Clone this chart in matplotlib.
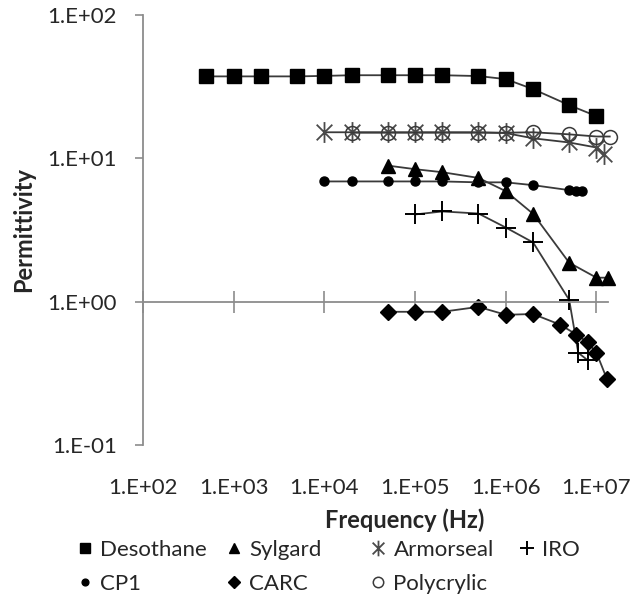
import numpy as np
import matplotlib
matplotlib.use("Agg")
import matplotlib.pyplot as plt
from matplotlib.path import Path
from matplotlib.lines import Line2D
from matplotlib.ticker import NullLocator

plt.rcParams['font.family'] = ['Lato', 'DejaVu Sans']

# ---------------- data ----------------
desothane_f = [5e2, 1e3, 2e3, 5e3, 1e4, 2e4, 5e4, 1e5, 2e5, 5e5, 1e6, 2e6, 5e6, 1e7]
desothane_v = [37.3, 37.3, 37.3, 37.3, 37.6, 38, 38, 38, 38, 37.5, 35.7, 30.4, 23.5, 19.7]

sylgard_f = [5e4, 1e5, 2e5, 5e5, 1e6, 2e6, 5e6, 1e7, 1.35e7]
sylgard_v = [8.9, 8.4, 8.0, 7.3, 5.9, 4.1, 1.87, 1.47, 1.47]

armorseal_f = [1e4, 2e4, 5e4, 1e5, 2e5, 5e5, 1e6, 2e6, 5e6, 1e7, 1.2e7]
armorseal_v = [15.2, 15.2, 15.2, 15.2, 15.2, 15.2, 15.0, 13.8, 12.9, 11.9, 10.8]

iro_f = [1e5, 2e5, 5e5, 1e6, 2e6, 5e6, 6.3e6, 8e6]
iro_v = [4.06, 4.26, 4.12, 3.29, 2.59, 1.03, 0.44, 0.39]

cp1_f = [1e4, 2e4, 5e4, 1e5, 2e5, 5e5, 1e6, 2e6, 5e6, 6e6, 7e6]
cp1_v = [6.9, 6.9, 6.9, 6.9, 6.9, 6.8, 6.8, 6.5, 6.0, 5.9, 5.9]

carc_f = [5e4, 1e5, 2e5, 5e5, 1e6, 2e6, 4e6, 6e6, 8e6, 1e7, 1.3e7]
carc_v = [0.85, 0.85, 0.85, 0.92, 0.81, 0.82, 0.69, 0.59, 0.52, 0.44, 0.29]

polycrylic_f = [2e4, 5e4, 1e5, 2e5, 5e5, 1e6, 2e6, 5e6, 1e7, 1.4e7]
polycrylic_v = [15.1, 15.1, 15.1, 15.1, 15.1, 15.1, 15.2, 14.7, 14.2, 14.2]

x_ticks = [1e2, 1e3, 1e4, 1e5, 1e6, 1e7]
x_tick_labels = ["1.E+02", "1.E+03", "1.E+04", "1.E+05", "1.E+06", "1.E+07"]
y_ticks = [1e-1, 1e0, 1e1, 1e2]
y_tick_labels = ["1.E-01", "1.E+00", "1.E+01", "1.E+02"]

# ---------------- styles ----------------
ast_path = Path(
    [(0, -1), (0, 1), (-0.75, -0.75), (0.75, 0.75), (-0.75, 0.75), (0.75, -0.75)],
    [Path.MOVETO, Path.LINETO, Path.MOVETO, Path.LINETO, Path.MOVETO, Path.LINETO])

series = [
    ("Desothane", desothane_f, desothane_v, dict(marker='s', ms=9.5, mfc='black', mec='black')),
    ("Sylgard", sylgard_f, sylgard_v, dict(marker='^', ms=10.5, mfc='black', mec='black')),
    ("Armorseal", armorseal_f, armorseal_v, dict(marker=ast_path, ms=15, mfc='none', mec='#4a4a4a', mew=1.3)),
    ("IRO", iro_f, iro_v, dict(marker='+', ms=14, mec='black', mew=1.4)),
    ("CP1", cp1_f, cp1_v, dict(marker='o', ms=6.5, mfc='black', mec='black')),
    ("CARC", carc_f, carc_v, dict(marker='D', ms=8.5, mfc='black', mec='black')),
    ("Polycrylic", polycrylic_f, polycrylic_v, dict(marker='o', ms=10, mfc='none', mec='#3a3a3a', mew=1.1)),
]

FS = 16
W, H = 634, 607
fig = plt.figure(figsize=(W / 100, H / 100), dpi=100)
L, R, T, B = 143, 608, 15, 445
ax = fig.add_axes([L / W, 1 - B / H, (R - L) / W, (B - T) / H])
ax.set_xscale('log')
ax.set_yscale('log')
ax.set_xlim(1e2, 1.34e7)
ax.set_ylim(1e-1, 1e2)

for name, f, v, st in series:
    ax.plot(f, v, color='#3a3a3a', lw=1.3, label=name, clip_on=False, **st)

axis_col = '#8c8c8c'
for s in ['top', 'right']:
    ax.spines[s].set_visible(False)
ax.spines['left'].set_color(axis_col)
ax.spines['left'].set_linewidth(1.3)
ax.spines['bottom'].set_position(('data', 1.0))
ax.spines['bottom'].set_color(axis_col)
ax.spines['bottom'].set_linewidth(1.3)

ax.set_xticks(x_ticks)
ax.xaxis.set_minor_locator(NullLocator())
ax.tick_params(axis='x', direction='inout', length=16, width=1.2, color=axis_col,
               labelbottom=False)
ax.set_yticks(y_ticks, labels=y_tick_labels)
ax.yaxis.set_minor_locator(NullLocator())
ax.tick_params(axis='y', direction='out', length=6, width=1.2, color=axis_col,
               labelsize=FS, labelcolor='#262626', pad=13)

sec = ax.secondary_xaxis('bottom')
sec.set_xticks(x_ticks, labels=x_tick_labels)
sec.xaxis.set_minor_locator(NullLocator())
sec.spines['bottom'].set_visible(False)
sec.tick_params(axis='x', length=0, labelsize=FS, labelcolor='#262626', pad=24)

ax.set_ylabel("Permittivity", fontsize=17, fontweight='bold', color='#262626')
ax.yaxis.set_label_coords(-0.232, 0.5)
fig.text(405 / W, 1 - 520 / H, "Frequency (Hz)", fontsize=17, fontweight='bold',
         color='#262626', ha='center', va='center')

# legend: equal-width columns like Excel
handles = {}
for name, f, v, st in series:
    handles[name] = Line2D([], [], ls='none', label=name, **st)
columns = [["Desothane", "CP1"], ["Sylgard", "CARC"], ["Armorseal", "Polycrylic"], ["IRO"]]
col_x = [76, 225, 369, 518]
for cx, names in zip(col_x, columns):
    leg = fig.legend(handles=[handles[n] for n in names], loc='upper left',
                     bbox_to_anchor=(cx / W, 1 - 540 / H), frameon=False,
                     fontsize=FS, handlelength=0.8, handletextpad=0.3,
                     labelspacing=0.62, markerscale=0.75, borderpad=0, borderaxespad=0)
    for t in leg.get_texts():
        t.set_color('#262626')

fig.savefig("out.png", dpi=100)
